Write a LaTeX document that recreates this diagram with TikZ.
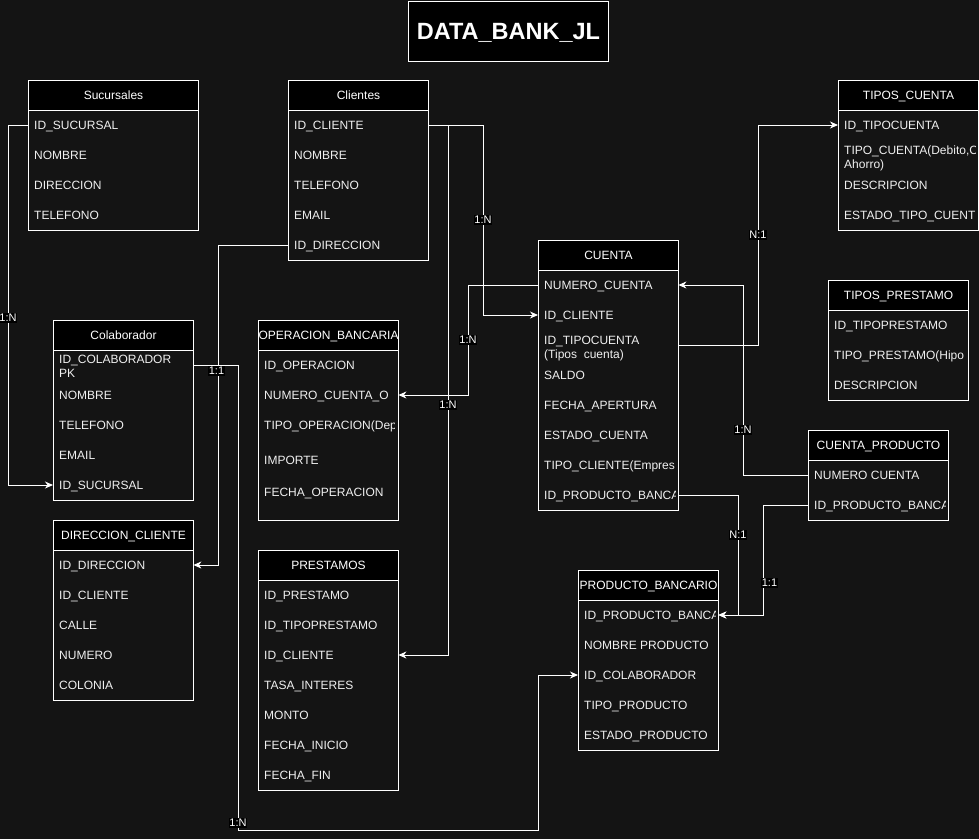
\documentclass[tikz,border=0pt]{standalone}
\usepackage{fontspec}
\setmainfont{Liberation Sans}
\usetikzlibrary{arrows.meta,calc}
\definecolor{bg}{HTML}{141414}
\definecolor{fg}{HTML}{F0F0F0}
\tikzset{
 tabbody/.style={draw=white, line width=1pt, anchor=north west, inner sep=0pt, fill=bg},
 tabhead/.style={draw=white, line width=1pt, fill=black, anchor=north west, inner sep=0pt, minimum height=30pt, text=white, font=\fontsize{12}{14}\selectfont, text height=8.6pt, text depth=0pt},
 rowtxt/.style={anchor=west, inner xsep=6pt, inner ysep=0pt, text=fg, font=\fontsize{12}{14}\selectfont, text height=8.6pt, text depth=0pt},
 conn/.style={draw=white, line width=1pt, -{Stealth[length=8pt,width=7pt,inset=2.5pt]}},
 lbl/.style={fill=black, text=white, font=\fontsize{11}{13}\selectfont, inner xsep=0.5pt, inner ysep=1.5pt},
 titlebox/.style={draw=white, line width=1pt, fill=black, anchor=north west, minimum width=200pt, minimum height=60pt, inner sep=0pt, text=white, font=\bfseries\fontsize{23.5}{28}\selectfont, text height=16.8pt, text depth=0pt}
}
\newcommand\ertab[6]{%
 \node[tabbody, minimum width=#4pt, minimum height=#5pt] (#1) at (#2,#3) {};
 \node[tabhead, minimum width=#4pt] (#1-h) at (#2,#3) {#6};}
\newcommand\errow[5]{\node[rowtxt] (#1) at (#2,#3) {\makebox[\dimexpr #4pt-12pt\relax][l]{#5}};}
\newcommand\twolines[3]{\raisebox{-#1pt}{\begin{tabular}[b]{@{}l@{}}#2\\#3\end{tabular}}}
\begin{document}
\begin{tikzpicture}[x=1pt,y=-1pt]
\fill[bg] (0,0) rectangle (979,839);
\useasboundingbox (0,0) rectangle (979,839);

\node[titlebox] (title) at (408,0.5) {DATA\_BANK\_JL};

% Sucursales
\ertab{suc}{28}{80}{170}{150}{Sucursales}
\begin{scope}\clip (28,80) rectangle ++(166,150);
\errow{suc-id}{28}{125}{170}{ID\_SUCURSAL}
\errow{suc-nom}{28}{155}{170}{NOMBRE}
\errow{suc-dir}{28}{185}{170}{DIRECCION}
\errow{suc-tel}{28}{215}{170}{TELEFONO}
\end{scope}

% Clientes
\ertab{cli}{288}{80}{140}{180}{Clientes}
\begin{scope}\clip (288,80) rectangle ++(136,180);
\errow{cli-id}{288}{125}{140}{ID\_CLIENTE}
\errow{cli-nom}{288}{155}{140}{NOMBRE}
\errow{cli-tel}{288}{185}{140}{TELEFONO}
\errow{cli-mail}{288}{215}{140}{EMAIL}
\errow{cli-dir}{288}{245}{140}{ID\_DIRECCION}
\end{scope}

% TIPOS_CUENTA
\ertab{tc}{838}{80}{140}{150}{TIPOS\_CUENTA}
\begin{scope}\clip (838,80) rectangle ++(137,150);
\errow{tc-id}{838}{125}{140}{ID\_TIPOCUENTA}
\errow{tc-tipo}{838}{155}{140}{\twolines{9}{TIPO\_CUENTA(Debito,C}{Ahorro)}}
\errow{tc-desc}{838}{185}{140}{DESCRIPCION}
\errow{tc-est}{838}{215}{140}{ESTADO\_TIPO\_CUENT}
\end{scope}

% CUENTA
\ertab{cta}{538}{240}{140}{270}{CUENTA}
\begin{scope}\clip (538,240) rectangle ++(137,270);
\errow{cta-num}{538}{285}{140}{NUMERO\_CUENTA}
\errow{cta-cli}{538}{315}{140}{ID\_CLIENTE}
\errow{cta-tipo}{538}{345}{140}{\twolines{9}{ID\_TIPOCUENTA}{(Tipos\ \ cuenta)}}
\errow{cta-saldo}{538}{375}{140}{SALDO}
\errow{cta-fecha}{538}{405}{140}{FECHA\_APERTURA}
\errow{cta-est}{538}{435}{140}{ESTADO\_CUENTA}
\errow{cta-tcli}{538}{465}{140}{TIPO\_CLIENTE(Empres}
\errow{cta-prod}{538}{495}{140}{ID\_PRODUCTO\_BANCA}
\end{scope}

% TIPOS_PRESTAMO
\ertab{tp}{828}{280}{140}{120}{TIPOS\_PRESTAMO}
\begin{scope}\clip (828,280) rectangle ++(137,120);
\errow{tp-id}{828}{325}{140}{ID\_TIPOPRESTAMO}
\errow{tp-tipo}{828}{355}{140}{TIPO\_PRESTAMO(Hipo}
\errow{tp-desc}{828}{385}{140}{DESCRIPCION}
\end{scope}

% CUENTA_PRODUCTO
\ertab{cp}{808}{430}{140}{90}{CUENTA\_PRODUCTO}
\begin{scope}\clip (808,430) rectangle ++(137,90);
\errow{cp-num}{808}{475}{140}{NUMERO CUENTA}
\errow{cp-prod}{808}{505}{140}{ID\_PRODUCTO\_BANCA}
\end{scope}

% Colaborador
\ertab{col}{53}{320}{140}{180}{Colaborador}
\begin{scope}\clip (53,320) rectangle ++(137,180);
\errow{col-id}{53}{365}{140}{\twolines{8}{ID\_COLABORADOR}{PK}}
\errow{col-nom}{53}{395}{140}{NOMBRE}
\errow{col-tel}{53}{425}{140}{TELEFONO}
\errow{col-mail}{53}{455}{140}{EMAIL}
\errow{col-suc}{53}{485}{140}{ID\_SUCURSAL}
\end{scope}

% OPERACION_BANCARIA
\ertab{op}{258}{320}{140}{200}{OPERACION\_BANCARIA}
\begin{scope}\clip (258,320) rectangle ++(136,200);
\errow{op-id}{258}{365}{140}{ID\_OPERACION}
\errow{op-num}{258}{395}{140}{NUMERO\_CUENTA\_O}
\errow{op-tipo}{258}{425}{140}{TIPO\_OPERACION(Dep}
\errow{op-imp}{258}{460}{140}{IMPORTE}
\errow{op-fecha}{258}{492}{140}{FECHA\_OPERACION}
\end{scope}

% DIRECCION_CLIENTE
\ertab{dir}{53}{520}{140}{180}{DIRECCION\_CLIENTE}
\begin{scope}\clip (53,520) rectangle ++(137,180);
\errow{dir-id}{53}{565}{140}{ID\_DIRECCION}
\errow{dir-cli}{53}{595}{140}{ID\_CLIENTE}
\errow{dir-calle}{53}{625}{140}{CALLE}
\errow{dir-num}{53}{655}{140}{NUMERO}
\errow{dir-col}{53}{685}{140}{COLONIA}
\end{scope}

% PRESTAMOS
\ertab{pre}{258}{550}{140}{240}{PRESTAMOS}
\begin{scope}\clip (258,550) rectangle ++(137,240);
\errow{pre-id}{258}{595}{140}{ID\_PRESTAMO}
\errow{pre-tipo}{258}{625}{140}{ID\_TIPOPRESTAMO}
\errow{pre-cli}{258}{655}{140}{ID\_CLIENTE}
\errow{pre-tasa}{258}{685}{140}{TASA\_INTERES}
\errow{pre-monto}{258}{715}{140}{MONTO}
\errow{pre-ini}{258}{745}{140}{FECHA\_INICIO}
\errow{pre-fin}{258}{775}{140}{FECHA\_FIN}
\end{scope}

% PRODUCTO_BANCARIO
\ertab{pb}{578}{570}{140}{180}{PRODUCTO\_BANCARIO}
\begin{scope}\clip (578,570) rectangle ++(137,180);
\errow{pb-id}{578}{615}{140}{ID\_PRODUCTO\_BANCA}
\errow{pb-nom}{578}{645}{140}{NOMBRE PRODUCTO}
\errow{pb-col}{578}{675}{140}{ID\_COLABORADOR}
\errow{pb-tipo}{578}{705}{140}{TIPO\_PRODUCTO}
\errow{pb-est}{578}{735}{140}{ESTADO\_PRODUCTO}
\end{scope}

% connectors
\draw[conn] (suc-id.west) -- ++(-20,0) |- (col-suc.west);
\draw[conn] (cli-id.east) -- ++(55,0) |- (cta-cli.west);
\draw[conn] (cli-id.east) -- ++(20,0) |- (pre-cli.east);
\draw[conn] (cli-dir.west) -- ++(-70,0) |- (dir-id.east);
\draw[conn] (col-id.east) -- ++(45,0) -- ++(0,465) -- ++(300,0) |- (pb-col.west);
\draw[conn] (cta-num.west) -- ++(-70,0) |- (op-num.east);
\draw[conn] (cta-tipo.east) -- ++(80,0) |- (tc-id.west);
\draw[conn] (cp-num.west) -- ++(-65,0) |- (cta-num.east);
\draw[conn] (cta-prod.east) -- ++(60,0) |- (pb-id.east);
\draw[conn] (cp-prod.west) -- ++(-45,0) |- (pb-id.east);

% labels
\node[lbl] (l1) at (8,318) {1:N};
\node[lbl] (l2) at (483,220) {1:N};
\node[lbl] (l3) at (448,405) {1:N};
\node[lbl] (l4) at (216.5,371) {1:1};
\node[lbl] (l5) at (238,823) {1:N};
\node[lbl] (l6) at (468,340) {1:N};
\node[lbl] (l7) at (758,235) {N:1};
\node[lbl] (l8) at (743,430) {1:N};
\node[lbl] (l9) at (738,535) {N:1};
\node[lbl] (l10) at (769.5,583) {1:1};
\end{tikzpicture}
\end{document}
